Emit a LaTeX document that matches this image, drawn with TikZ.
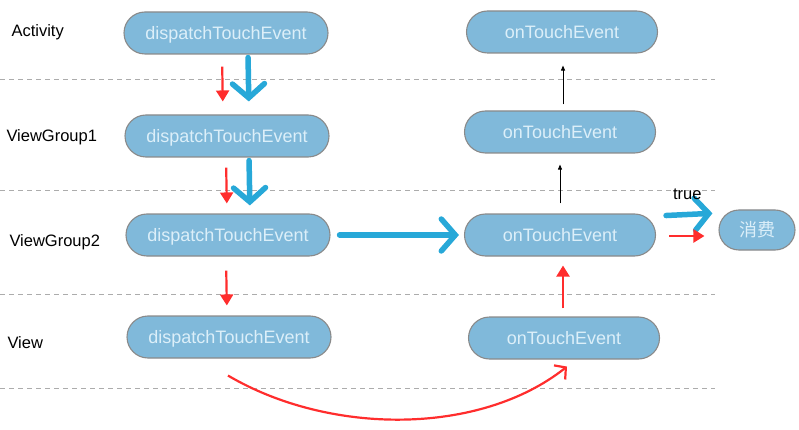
\documentclass[tikz,border=0pt]{standalone}
\usepackage{fontspec}
\setmainfont{Liberation Sans}
\newfontfamily\cjkfont{Noto Sans CJK SC}
\usepackage{tikz}
\usetikzlibrary{arrows.meta,positioning,calc}
\definecolor{boxblue}{HTML}{80B9DA}
\definecolor{boxtext}{HTML}{DCEFF9}
\definecolor{boxline}{HTML}{8A8A8A}
\definecolor{flowblue}{HTML}{27A8D8}
\definecolor{flowred}{HTML}{FF2D2D}

\begin{document}
\begin{tikzpicture}[
  x=1pt, y=-1pt,
  font=\fontsize{18}{21}\selectfont,
  lane/.style={draw=gray!65, dash pattern=on 5pt off 4pt, line width=0.9pt},
  layer/.style={anchor=west, font=\fontsize{16.5}{19}\selectfont},
  evt/.style={draw=boxline, line width=1.1pt, fill=boxblue, text=boxtext,
              rounded corners=21pt, minimum height=42pt, inner sep=0pt,
              text height=13pt, text depth=0pt},
  disp/.style={evt, minimum width=204pt},
  touch/.style={evt, minimum width=191pt},
  bluearr/.style={-{Straight Barb[length=14pt,width=32pt,line cap=round]}, draw=flowblue,
                  line width=5.5pt, line cap=round,
                  preaction={draw=black!45, opacity=0.35, transform canvas={xshift=1.5pt,yshift=-1.5pt}}},
  redarr/.style={-{Triangle[length=11pt,width=13pt]}, draw=flowred, line width=2.2pt},
  thinarr/.style={-{Triangle[length=5pt,width=4pt]}, line width=0.8pt}
]
\useasboundingbox (0,0) rectangle (799,430);
\draw[lane] (0,79) -- (715,79);
\draw[lane] (0,190) -- (715,190);
\draw[lane] (0,294) -- (715,294);
\draw[lane] (0,388) -- (715,388);
\node[layer] (lact) at (8,32) {Activity};
\node[layer] (lvg1) at (3,137) {ViewGroup1};
\node[layer] (lvg2) at (6,242) {ViewGroup2};
\node[layer] (lview) at (4,343) {View};
\node[disp] (dact) at (226,33) {dispatchTouchEvent};
\node[disp] (dvg1) at (227,136) {dispatchTouchEvent};
\node[disp] (dvg2) at (228,235) {dispatchTouchEvent};
\node[disp] (dview) at (229,337) {dispatchTouchEvent};
\node[touch] (tact) at (562,32) {onTouchEvent};
\node[touch] (tvg1) at (560,132) {onTouchEvent};
\node[touch] (tvg2) at (560,235) {onTouchEvent};
\node[touch] (tview) at (564,338) {onTouchEvent};
\node[evt, minimum width=76pt, minimum height=40pt, rounded corners=20pt] (used) at (757,230) {\cjkfont 消费};
% dispatch goes down
\draw[redarr, shorten <=12pt, shorten >=13pt] ([xshift=-4pt]dact.south) -- ([xshift=-4pt]dvg1.north);
\draw[bluearr, shorten <=3pt, shorten >=13pt] ([xshift=22pt]dact.south) -- ([xshift=22pt]dvg1.north);
\draw[redarr, shorten <=10pt, shorten >=10pt] ([xshift=-1pt]dvg1.south) -- ([xshift=-1pt]dvg2.north);
\draw[bluearr, shorten <=3pt, shorten >=8pt] ([xshift=22pt]dvg1.south) -- ([xshift=22pt]dvg2.north);
\draw[redarr, shorten <=14pt, shorten >=10pt] ([xshift=-2pt]dvg2.south) -- ([xshift=-2pt]dview.north);
\draw[bluearr, shorten <=9pt, shorten >=5pt] (dvg2.east) -- (tvg2.west);
% onTouchEvent goes back up
\draw[thinarr, shorten <=6pt, shorten >=12pt] ([xshift=3pt]tvg1.north) -- ([xshift=1pt]tact.south);
\draw[thinarr, shorten <=10pt, shorten >=11pt] (tvg2.north) -- (tvg1.south);
\draw[redarr, shorten <=8pt, shorten >=9pt] ([xshift=-1pt]tview.north) -- ([xshift=3pt]tvg2.south);
\draw[bluearr, shorten <=10pt, shorten >=6pt] ([yshift=19pt]tvg2.east) -- node[above=9pt, text=black, font=\fontsize{16.5}{19}\selectfont]{true} ([yshift=17pt]used.west);
\draw[redarr, shorten <=13pt, shorten >=14pt] ([yshift=-1pt]tvg2.east) -- ([yshift=-6pt]used.west);
\coordinate (curvefrom) at ($(dview.south)+(-1,17)$);
\coordinate (curveto) at ($(tview.south)+(3,7)$);
\draw[-{Straight Barb[length=8pt,width=18pt]}, draw=flowred, line width=2.2pt]
  (curvefrom) .. controls ($(curvefrom)+(102,60)$) and ($(curveto)+(-87,69)$) .. (curveto);
\end{tikzpicture}
\end{document}
